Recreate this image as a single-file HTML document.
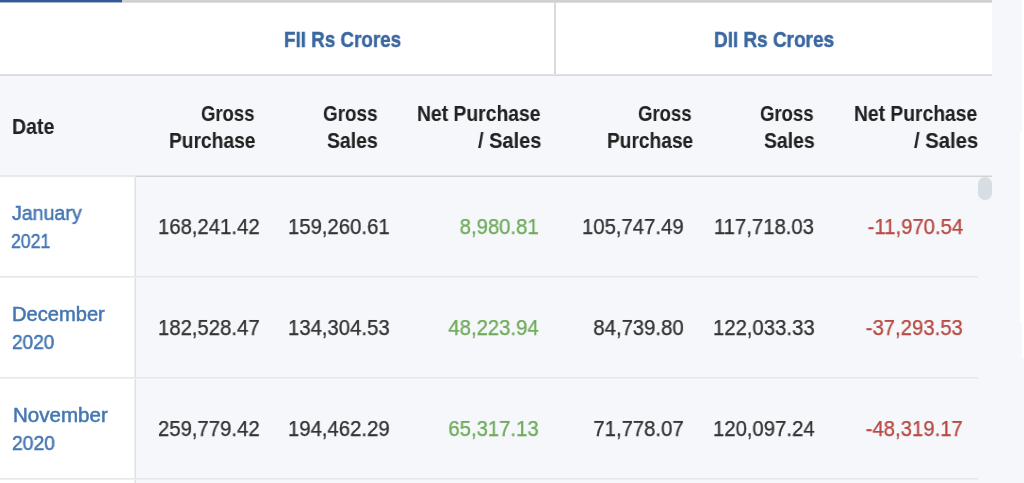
<!DOCTYPE html>
<html><head><meta charset="utf-8"><style>
*{margin:0;padding:0;box-sizing:border-box}
html,body{width:1024px;height:483px;overflow:hidden;background:#fff}
body{position:relative;font-family:"Liberation Sans",sans-serif}
.a{position:absolute}
.t{position:absolute;font-size:20px;line-height:28px;white-space:nowrap;will-change:transform}
.r{text-align:right}
.h1{font-weight:bold;color:#3b68a1;-webkit-text-stroke:0.4px #3b68a1;text-shadow:0 0 0.8px rgba(59,104,161,.3)}
.h2{font-weight:bold;color:#222;text-shadow:0 0 0.8px rgba(34,34,34,.25)}
.dt{color:#4677b2;-webkit-text-stroke:0.45px #4677b2;text-shadow:0 0 0.8px rgba(70,119,178,.3)}
.num{color:#333;-webkit-text-stroke:0.25px currentColor;text-shadow:0 0 0.8px rgba(51,51,51,.25)}
.g{color:#70ab5d;text-shadow:0 0 0.8px rgba(112,171,93,.3)}
.red{color:#b84a43;text-shadow:0 0 0.8px rgba(184,74,67,.3)}
</style></head><body><div id="root" style="position:absolute;left:0;top:0;width:1024px;height:483px">
<div class="a" style="left:992px;top:0;width:29.5px;height:131px;background:#f5f7fa"></div>
<div class="a" style="left:992px;top:131px;width:27.5px;height:191px;background:#f5f7fa"></div>
<div class="a" style="left:992px;top:322px;width:29.5px;height:36px;background:#f5f7fa"></div>
<div class="a" style="left:992px;top:358px;width:32px;height:125px;background:#f5f7fa"></div>
<div class="a" style="left:0;top:0;width:992px;height:3px;background:linear-gradient(#d1d1d1 0,#d1d1d1 2px,#dedede 2px)"></div>
<div class="a" style="left:0;top:0;width:122px;height:2px;background:#30599a"></div>
<div class="a" style="left:0;top:2px;width:122px;height:1px;background:#a9b5c6"></div>
<div class="a" style="left:0;top:74px;width:992px;height:1px;background:#e2e2e2"></div>
<div class="a" style="left:0;top:75px;width:992px;height:1px;background:#d9d9d9"></div>
<div class="a" style="left:554px;top:3px;width:2px;height:71px;background:#d9d9d9"></div>
<div class="a" style="left:0;top:76px;width:992px;height:99px;background:#f5f7fa"></div>
<div class="a" style="left:0;top:175px;width:136px;height:2px;background:#e8e9ea"></div>
<div class="a" style="left:136px;top:175px;width:856px;height:1px;background:#e6e7e8"></div>
<div class="a" style="left:136px;top:176px;width:856px;height:1px;background:#d3d5d5"></div>
<div class="a" style="left:136px;top:177px;width:842px;height:306px;background:#f5f7fa"></div>
<div class="a" style="left:978px;top:177px;width:14px;height:306px;background:#f5f7fa"></div>
<div class="a" style="left:134px;top:177px;width:1px;height:306px;background:#eeeff1"></div>
<div class="a" style="left:135px;top:177px;width:1px;height:306px;background:#e1e2e6"></div>
<div class="a" style="left:0;top:276px;width:978px;height:1px;background:#e7e7e8"></div>
<div class="a" style="left:0;top:277px;width:978px;height:1px;background:#efeff1"></div>
<div class="a" style="left:0;top:377px;width:978px;height:1px;background:#e7e7e8"></div>
<div class="a" style="left:0;top:378px;width:978px;height:1px;background:#efeff1"></div>
<div class="a" style="left:0;top:478px;width:978px;height:1px;background:#e7e7e8"></div>
<div class="a" style="left:0;top:479px;width:978px;height:1px;background:#efeff1"></div>
<div class="a" style="left:978px;top:177px;width:14px;height:23px;border-radius:7px;background:#d6dee4"></div>
<div class="t h1" id="fii" style="left:283.55px;top:26.28px;transform:scaleX(0.8548);transform-origin:0 0;font-size:22px">FII Rs Crores</div>
<div class="t h1" id="dii" style="left:713.85px;top:26.28px;transform:scaleX(0.8611);transform-origin:0 0;font-size:22px">DII Rs Crores</div>
<div class="t h2" id="date" style="left:12.28px;top:113.15px;transform:scaleX(0.9077);transform-origin:0 0;font-size:21.5px">Date</div>
<div class="t h2" id="h0a" style="left:201.32px;top:99.75px;transform:scaleX(0.8592);transform-origin:0 0;font-size:21.5px">Gross</div>
<div class="t h2" id="h0b" style="left:168.86px;top:127.15px;transform:scaleX(0.8930);transform-origin:0 0;font-size:21.5px">Purchase</div>
<div class="t h2" id="h1a" style="left:323.04px;top:99.75px;transform:scaleX(0.8769);transform-origin:0 0;font-size:21.5px">Gross</div>
<div class="t h2" id="h1b" style="left:326.69px;top:127.15px;transform:scaleX(0.9021);transform-origin:0 0;font-size:21.5px">Sales</div>
<div class="t h2" id="h2a" style="left:416.70px;top:99.75px;transform:scaleX(0.8984);transform-origin:0 0;font-size:21.5px">Net Purchase</div>
<div class="t h2" id="h2b" style="left:477.60px;top:127.15px;transform:scaleX(0.9293);transform-origin:0 0;font-size:21.5px">/ Sales</div>
<div class="t h2" id="h3a" style="left:638.32px;top:99.75px;transform:scaleX(0.8613);transform-origin:0 0;font-size:21.5px">Gross</div>
<div class="t h2" id="h3b" style="left:606.71px;top:127.15px;transform:scaleX(0.8899);transform-origin:0 0;font-size:21.5px">Purchase</div>
<div class="t h2" id="h4a" style="left:760.05px;top:99.75px;transform:scaleX(0.8610);transform-origin:0 0;font-size:21.5px">Gross</div>
<div class="t h2" id="h4b" style="left:763.66px;top:127.15px;transform:scaleX(0.9013);transform-origin:0 0;font-size:21.5px">Sales</div>
<div class="t h2" id="h5a" style="left:854.47px;top:99.75px;transform:scaleX(0.8962);transform-origin:0 0;font-size:21.5px">Net Purchase</div>
<div class="t h2" id="h5b" style="left:914.37px;top:127.15px;transform:scaleX(0.9408);transform-origin:0 0;font-size:21.5px">/ Sales</div>
<div class="t dt" id="d0a" style="left:12.20px;top:198.87px;transform:scaleX(0.9791);transform-origin:0 0;font-size:20px">January</div>
<div class="t dt" id="d0b" style="left:11.36px;top:226.87px;transform:scaleX(0.8849);transform-origin:0 0;font-size:20px">2021</div>
<div class="t dt" id="d1a" style="left:12.40px;top:300.37px;transform:scaleX(1.0059);transform-origin:0 0;font-size:20px">December</div>
<div class="t dt" id="d1b" style="left:11.64px;top:328.07px;transform:scaleX(0.9535);transform-origin:0 0;font-size:20px">2020</div>
<div class="t dt" id="d2a" style="left:13.17px;top:400.77px;transform:scaleX(1.0276);transform-origin:0 0;font-size:20px">November</div>
<div class="t dt" id="d2b" style="left:11.62px;top:428.67px;transform:scaleX(0.9665);transform-origin:0 0;font-size:20px">2020</div>
<div class="t num r" id="n00" style="right:764.40px;top:212.75px;font-size:21.5px;transform:scaleX(0.9445);transform-origin:100% 0">168,241.42</div>
<div class="t num r" id="n01" style="right:634.70px;top:212.75px;font-size:21.5px;transform:scaleX(0.9445);transform-origin:100% 0">159,260.61</div>
<div class="t num g r" id="n02" style="right:485.13px;top:212.75px;font-size:21.5px;transform:scaleX(0.9445);transform-origin:100% 0">8,980.81</div>
<div class="t num r" id="n03" style="right:340.53px;top:212.75px;font-size:21.5px;transform:scaleX(0.9445);transform-origin:100% 0">105,747.49</div>
<div class="t num r" id="n04" style="right:209.70px;top:212.75px;font-size:21.5px;transform:scaleX(0.9445);transform-origin:100% 0">117,718.03</div>
<div class="t num red r" id="n05" style="right:60.93px;top:212.75px;font-size:21.5px;transform:scaleX(0.9445);transform-origin:100% 0">-11,970.54</div>
<div class="t num r" id="n10" style="right:764.40px;top:313.75px;font-size:21.5px;transform:scaleX(0.9445);transform-origin:100% 0">182,528.47</div>
<div class="t num r" id="n11" style="right:634.70px;top:313.75px;font-size:21.5px;transform:scaleX(0.9445);transform-origin:100% 0">134,304.53</div>
<div class="t num g r" id="n12" style="right:485.13px;top:313.75px;font-size:21.5px;transform:scaleX(0.9445);transform-origin:100% 0">48,223.94</div>
<div class="t num r" id="n13" style="right:340.53px;top:313.75px;font-size:21.5px;transform:scaleX(0.9445);transform-origin:100% 0">84,739.80</div>
<div class="t num r" id="n14" style="right:209.70px;top:313.75px;font-size:21.5px;transform:scaleX(0.9445);transform-origin:100% 0">122,033.33</div>
<div class="t num red r" id="n15" style="right:60.93px;top:313.75px;font-size:21.5px;transform:scaleX(0.9445);transform-origin:100% 0">-37,293.53</div>
<div class="t num r" id="n20" style="right:764.40px;top:414.75px;font-size:21.5px;transform:scaleX(0.9445);transform-origin:100% 0">259,779.42</div>
<div class="t num r" id="n21" style="right:634.70px;top:414.75px;font-size:21.5px;transform:scaleX(0.9445);transform-origin:100% 0">194,462.29</div>
<div class="t num g r" id="n22" style="right:485.13px;top:414.75px;font-size:21.5px;transform:scaleX(0.9445);transform-origin:100% 0">65,317.13</div>
<div class="t num r" id="n23" style="right:340.53px;top:414.75px;font-size:21.5px;transform:scaleX(0.9445);transform-origin:100% 0">71,778.07</div>
<div class="t num r" id="n24" style="right:209.70px;top:414.75px;font-size:21.5px;transform:scaleX(0.9445);transform-origin:100% 0">120,097.24</div>
<div class="t num red r" id="n25" style="right:60.93px;top:414.75px;font-size:21.5px;transform:scaleX(0.9445);transform-origin:100% 0">-48,319.17</div>
</div></body></html>
